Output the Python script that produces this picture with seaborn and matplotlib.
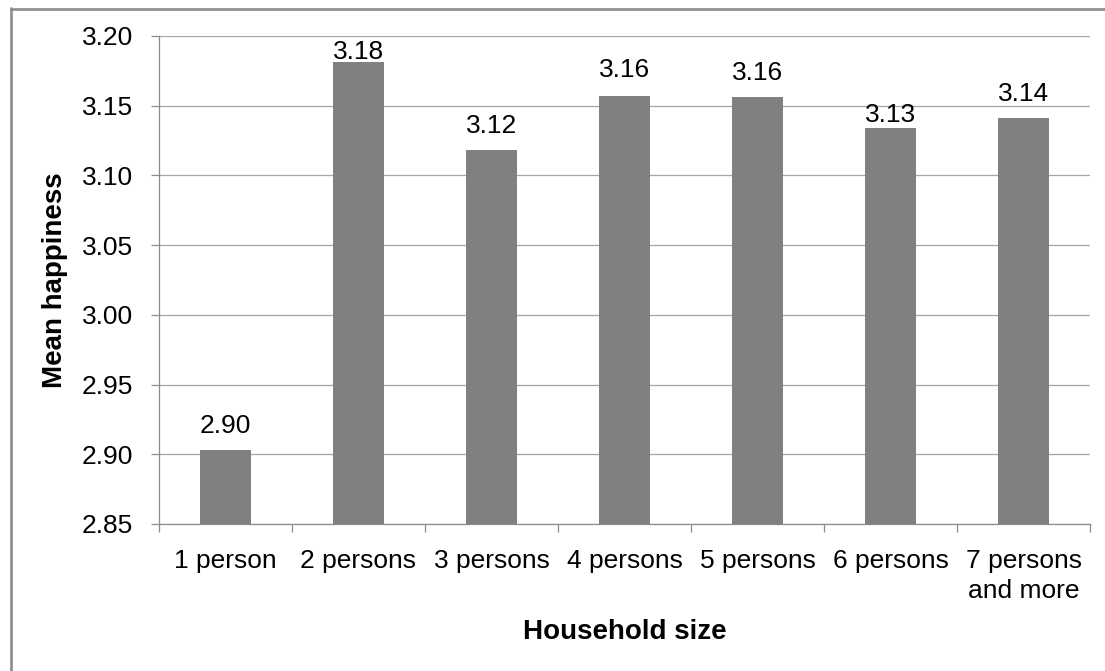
import matplotlib
matplotlib.use("Agg")
import matplotlib.pyplot as plt
from matplotlib.lines import Line2D
import seaborn as sns
import pandas as pd

# Data
categories = ["1 person", "2 persons", "3 persons", "4 persons",
              "5 persons", "6 persons", "7 persons\nand more"]
mean_happiness = [2.903, 3.181, 3.118, 3.157, 3.156, 3.134, 3.141]
y_ticks = [2.85, 2.90, 2.95, 3.00, 3.05, 3.10, 3.15, 3.20]

# Gap (in pixels) between each bar top and its value label baseline
label_gap_px = [17.5, 3, 17, 18.5, 17.5, 6.5, 17.3]

sns.set_style("white")
plt.rcParams["font.family"] = ["Liberation Sans", "DejaVu Sans"]

DPI = 100
W, H = 1105, 671
fig = plt.figure(figsize=(W / DPI, H / DPI), dpi=DPI)
fig.patch.set_facecolor("white")

left, right, top, bottom = 159, 1090, 36, 524
ax = fig.add_axes([left / W, 1 - bottom / H, (right - left) / W, (bottom - top) / H])

df = pd.DataFrame({"size": categories, "happiness": mean_happiness})
sns.barplot(data=df, x="size", y="happiness", color="#808080", saturation=1,
            width=0.39, ax=ax, zorder=3, linewidth=0)

ax.set_xlim(-0.5, len(categories) - 0.5)
ax.set_ylim(y_ticks[0], y_ticks[-1])
ax.set_yticks(y_ticks)
ax.set_yticklabels([f"{t:.2f}" for t in y_ticks])

# Horizontal gridlines
ax.yaxis.grid(True, color="#a6a6a6", linewidth=0.9, zorder=0)
ax.xaxis.grid(False)
ax.set_axisbelow(True)

# Spines
for s in ["top", "right"]:
    ax.spines[s].set_visible(False)
for s in ["left", "bottom"]:
    ax.spines[s].set_visible(True)
    ax.spines[s].set_color("#8c8c8c")
    ax.spines[s].set_linewidth(0.9)

FS = 19
tick_len = 8 * 72 / DPI
# Category boundary ticks on the x axis; labels sit on unmarked major ticks
ax.set_xticks([i - 0.5 for i in range(len(categories) + 1)], minor=True)
ax.tick_params(axis="x", which="minor", length=tick_len, width=0.9,
               color="#8c8c8c", direction="out", bottom=True)
ax.tick_params(axis="x", which="major", length=0, pad=tick_len + 12,
               labelsize=FS, labelcolor="black")
ax.tick_params(axis="y", which="major", length=tick_len, width=0.9,
               color="#8c8c8c", direction="out", left=True, pad=13,
               labelsize=FS, labelcolor="black")
ax.set_xticks(range(len(categories)))
ax.set_xticklabels(categories, linespacing=1.35)
ax.set_xlabel("")
ax.set_ylabel("")

# Value labels above bars
for i, (v, gap) in enumerate(zip(mean_happiness, label_gap_px)):
    ax.annotate(f"{v:.2f}", xy=(i, v), xytext=(0, gap * 72 / DPI),
                textcoords="offset points", ha="center", va="baseline",
                fontsize=FS, color="black", zorder=5,
                annotation_clip=False)

# Axis titles
fig.text(624.5 / W, 1 - 639 / H, "Household size", ha="center", va="baseline",
         fontsize=20, fontweight="bold", color="black")
fig.text(62 / W, 1 - 280 / H, "Mean happiness", ha="center", va="baseline",
         rotation=90, rotation_mode="anchor", fontsize=20, fontweight="bold",
         color="black")

# Chart-area border (left and top edges)
fig.add_artist(Line2D([10.5 / W, 10.5 / W], [1 - 7.5 / H, 0], transform=fig.transFigure,
                      color="#8c8c8c", linewidth=1.9))
fig.add_artist(Line2D([10.5 / W, 1], [1 - 8.5 / H, 1 - 8.5 / H], transform=fig.transFigure,
                      color="#8c8c8c", linewidth=1.9))

fig.savefig("out.png", dpi=DPI, facecolor="white")
